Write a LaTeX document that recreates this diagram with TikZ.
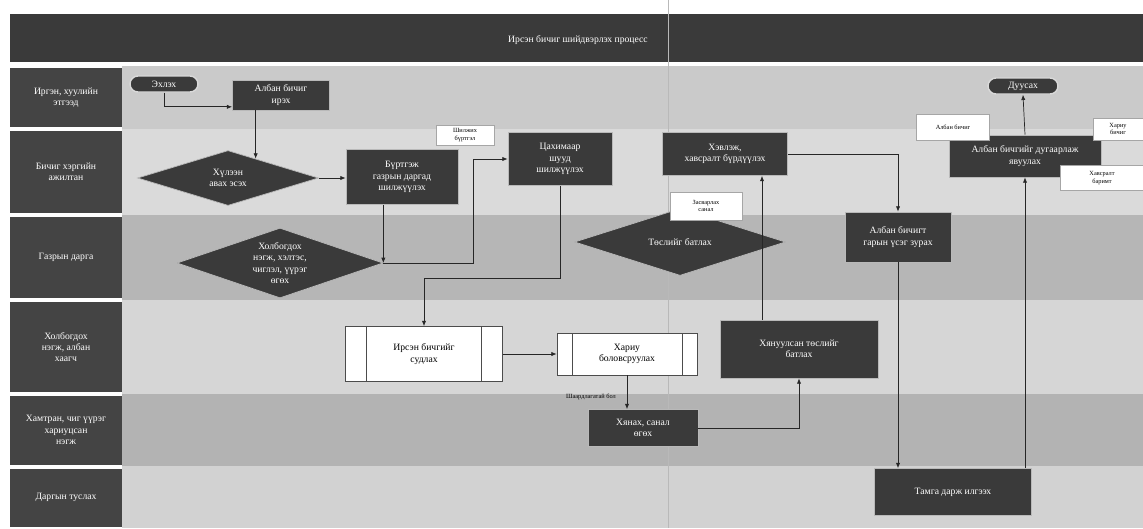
\documentclass[tikz,border=0pt]{standalone}
\usepackage{fontspec}
\setmainfont{Liberation Serif}
\usetikzlibrary{arrows.meta,shapes.geometric,calc}

\definecolor{darkbox}{HTML}{3A3A3A}
\definecolor{lanecell}{HTML}{444444}
\definecolor{laneA}{HTML}{CACACA}
\definecolor{laneB}{HTML}{DADADA}
\definecolor{laneC}{HTML}{B6B6B6}
\definecolor{laneD}{HTML}{D6D6D6}
\definecolor{laneE}{HTML}{B3B3B3}
\definecolor{laneF}{HTML}{D2D2D2}

\begin{document}
\begin{tikzpicture}[x=0.02cm, y=-0.02cm,
  txt/.style={font=\fontsize{5.5}{6.4}\selectfont},
  darknode/.style={txt, draw=gray!55, fill=darkbox, text=white, align=center, inner sep=2pt},
  decision/.style={txt, diamond, shape aspect=3, draw=gray!55, fill=darkbox, text=white, align=center, inner sep=0pt},
  predef/.style={txt, draw=gray!60!black, fill=white, align=center, inner sep=2pt,
    path picture={\draw[gray!60!black] ([xshift=#1]path picture bounding box.north west) -- ([xshift=#1]path picture bounding box.south west)
      ([xshift=-#1]path picture bounding box.north east) -- ([xshift=-#1]path picture bounding box.south east);}},
  predef/.default=0.4cm,
  note/.style={draw=gray!70, fill=white, align=center, inner sep=1pt, font=\fontsize{3.6}{4.2}\selectfont},
  pill/.style={txt, rounded corners=0.16cm, draw=gray!30, line width=0.8pt, fill=darkbox, text=white, inner sep=1pt},
  lanelbl/.style={txt, fill=lanecell, text=white, align=center, minimum width=2.24cm, inner sep=1pt},
  flow/.style={draw=gray!30!black, line width=0.4pt, -{Latex[length=3pt,width=2.4pt]}}
]
\useasboundingbox (0,0) rectangle (1143,528);

% title bar
\fill[darkbox] (10,14) rectangle (1143,62);
\node[txt, text=white] (title) at (578,40) {Ирсэн бичиг шийдвэрлэх процесс};

% lanes
\fill[laneA] (122,66) rectangle (1143,129);
\fill[laneB] (122,129) rectangle (1143,215);
\fill[laneC] (122,215) rectangle (1143,300);
\fill[laneD] (122,300) rectangle (1143,394);
\fill[laneE] (122,394) rectangle (1143,466);
\fill[laneF] (122,466) rectangle (1143,528);

\node[lanelbl, minimum height=1.2cm] (l1) at (66,97.5) {Иргэн, хуулийн\\этгээд};
\node[lanelbl, minimum height=1.66cm] (l2) at (66,172) {Бичиг хэргийн\\ажилтан};
\node[lanelbl, minimum height=1.64cm] (l3) at (66,257.5) {Газрын дарга};
\node[lanelbl, minimum height=1.82cm] (l4) at (66,347) {Холбогдох\\нэгж, албан\\хаагч};
\node[lanelbl, minimum height=1.38cm] (l5) at (66,430) {Хамтран, чиг үүрэг\\хариуцсан\\нэгж};
\node[lanelbl, minimum height=1.16cm] (l6) at (66,497.5) {Даргын туслах};

% fold of the page
\draw[gray!55, line width=0.5pt] (668,0) -- (668,528);

% steps
\node[pill, minimum width=1.36cm, minimum height=0.32cm] (start) at (164,84) {Эхлэх};
\node[darknode, minimum width=1.94cm, minimum height=0.6cm] (albi) at (281,95) {Албан бичиг\\ирэх};
\node[decision, minimum width=3.62cm, minimum height=1.1cm] (d1) at (228,178) {Хүлээн\\авах эсэх};
\node[darknode, minimum width=2.24cm, minimum height=1.1cm] (brt) at (402,177) {Бүртгэж\\газрын даргад\\шилжүүлэх};
\node[darknode, minimum width=2.08cm, minimum height=1.06cm] (cakh) at (560,159) {Цахимаар\\шууд\\шилжүүлэх};
\node[decision, minimum width=4.12cm, minimum height=1.4cm] (d2) at (280,263) {Холбогдох\\нэгж, хэлтэс,\\чиглэл, үүрэг\\өгөх};
\node[predef=0.42cm, minimum width=3.14cm, minimum height=1.1cm] (irs) at (424,354) {Ирсэн бичгийг\\судлах};
\node[predef=0.3cm, minimum width=2.8cm, minimum height=0.84cm] (har) at (627,354) {Хариу\\боловсруулах};
\node[darknode, minimum width=2.2cm, minimum height=0.74cm] (khy) at (643,428) {Хянах, санал\\өгөх};
\node[darknode, minimum width=3.16cm, minimum height=1.16cm] (khyn) at (799,349) {Хянуулсан төслийг\\батлах};
\node[decision, minimum width=4.22cm, minimum height=1.34cm] (d3) at (680,242) {Төслийг батлах};
\node[darknode, minimum width=2.5cm, minimum height=0.86cm] (hev) at (725,154) {Хэвлэж,\\хавсралт бүрдүүлэх};
\node[darknode, minimum width=2.12cm, minimum height=1.0cm] (ab) at (898,237) {Албан бичигт\\гарын үсэг зурах};
\node[darknode, minimum width=3.14cm, minimum height=0.94cm] (tam) at (953,492) {Тамга дарж илгээх};
\node[darknode, minimum width=3.04cm, minimum height=0.84cm] (dug) at (1025,156) {Албан бичгийг дугаарлаж\\явуулах};
\node[pill, minimum width=1.4cm, minimum height=0.32cm] (end) at (1023,86) {Дуусах};

% notes
\node[note, minimum width=1.16cm, minimum height=0.4cm] (n1) at (465,135) {Шилжих\\бүртгэл};
\node[note, minimum width=1.44cm, minimum height=0.56cm] (n2) at (706,206) {Засварлах\\санал};
\node[note, minimum width=1.46cm, minimum height=0.52cm] (n3) at (953,127) {Албан бичиг};
\node[note, minimum width=1.0cm, minimum height=0.44cm] (n4) at (1118,129) {Хариу\\бичиг};
\node[note, minimum width=1.68cm, minimum height=0.5cm] (n5) at (1102,178) {Хавсралт\\баримт};

\coordinate (up) at (762,300);

% flow
\draw[flow] (start.south) |- ([yshift=2pt]albi.south west);
\draw[flow] (albi.south -| d1.35) -- (d1.35);
\draw[flow] (d1.east) -- (d1.east -| brt.west);
\draw[flow] (brt.south -| d2.east) -- (d2.east);
\draw[flow] (d2.east) -- ++(90,0) |- (cakh.west);
\draw[flow] (cakh.south) -- ++(0,92) -| (irs.north);
\draw[flow] (irs.east) -- (irs.east -| har.west);
\draw[flow] (har.south) -- (har.south |- khy.north);
\node[font=\fontsize{3.6}{4.2}\selectfont, anchor=east] (req) at (622,397) {Шаардлагатай бол};
\draw[flow] (khy.east) -| (khyn.south);
\draw[flow] (khyn.north -| up) -- (hev.south -| up);
\draw[flow] (hev.east) -| (ab.north);
\draw[flow] (ab.south) -- (ab.south |- tam.north);
\draw[flow] (tam.north -| dug.south) -- (dug.south);
\draw[flow] (dug.north) -- (end.south);
\end{tikzpicture}
\end{document}
